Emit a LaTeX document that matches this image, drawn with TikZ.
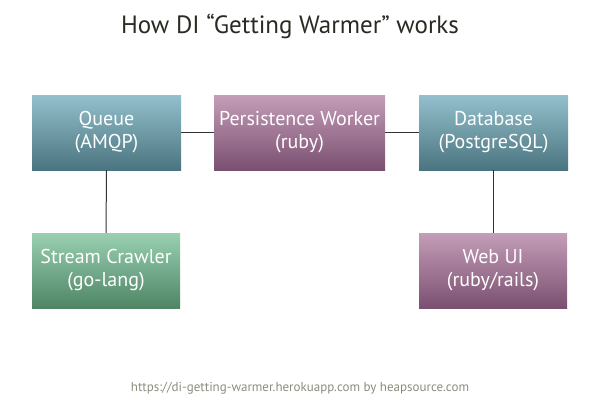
\documentclass[tikz,border=0pt]{standalone}
\usepackage{fontspec}
\setmainfont{PT Sans}
\usetikzlibrary{shadings}
\definecolor{bluetop}{HTML}{93C0CC}
\definecolor{bluebot}{HTML}{4A7480}
\definecolor{purptop}{HTML}{C49DB9}
\definecolor{purpbot}{HTML}{7A5070}
\definecolor{greentop}{HTML}{9AD0B2}
\definecolor{greenbot}{HTML}{4D8565}
\definecolor{linec}{HTML}{333333}
\definecolor{footc}{HTML}{8C8C7C}
\definecolor{titlec}{HTML}{2A2A22}
\tikzset{
  box/.style={minimum width=149pt, minimum height=75pt, inner sep=0pt, align=center,
    text=white, font=\fontsize{20}{23}\selectfont},
  bluebox/.style={box, top color=bluetop, bottom color=bluebot},
  purpbox/.style={box, top color=purptop, bottom color=purpbot},
  greenbox/.style={box, top color=greentop, bottom color=greenbot},
  conn/.style={draw=linec, line width=1pt},
}
\begin{document}
\begin{tikzpicture}[x=1pt,y=-1pt]
\useasboundingbox (0,0) rectangle (600,400);
\node[font=\fontsize{25}{29}\selectfont, text=titlec] (title) at (290,26) {How DI “Getting Warmer” works};
\node[bluebox] (queue) at (106.5,132.5) {Queue\\(AMQP)};
\node[purpbox, minimum width=171pt] (worker) at (299.5,132.5) {Persistence Worker\\(ruby)};
\node[bluebox] (db) at (493.5,132.5) {Database\\(PostgreSQL)};
\node[greenbox, minimum width=148pt] (crawler) at (106,270.5) {Stream Crawler\\(go-lang)};
\node[purpbox, minimum width=148pt] (webui) at (493,270.5) {Web UI\\(ruby/rails)};
\draw[conn] (queue) -- (worker);
\draw[conn] (worker) -- (db);
\draw[conn] (queue) -- (crawler);
\draw[conn] (db.south -| webui.north) -- (webui);
\node[font=\fontsize{13}{15}\selectfont, text=footc] (foot) at (300,388) {https://di-getting-warmer.herokuapp.com by heapsource.com};
\end{tikzpicture}
\end{document}
